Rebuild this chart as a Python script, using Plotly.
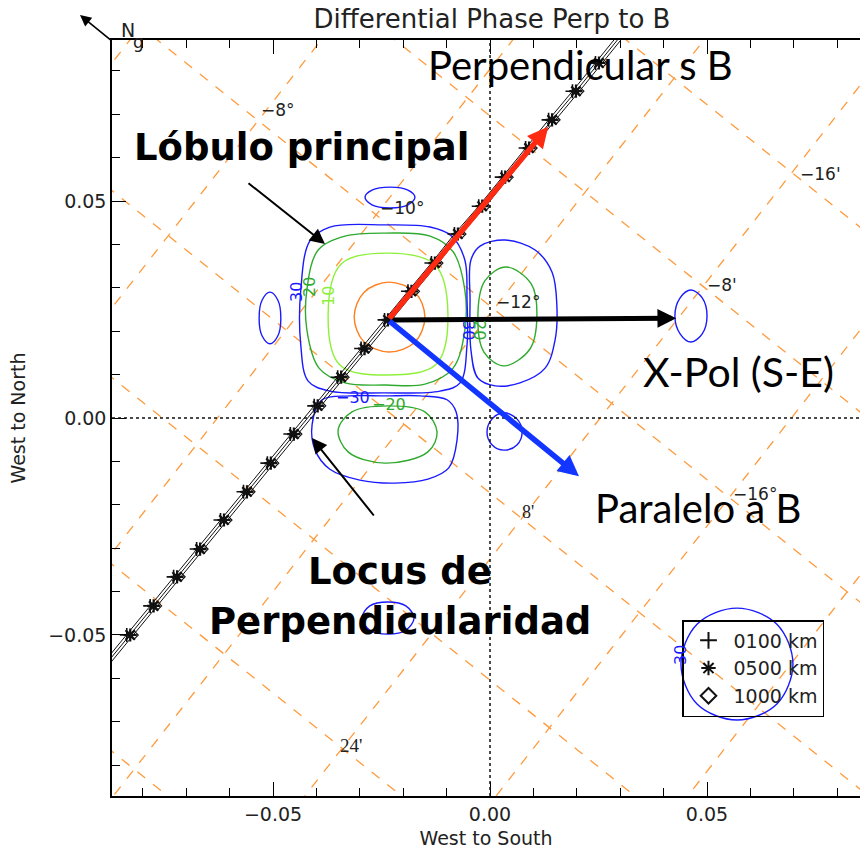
import plotly.graph_objects as go

# ---------------- figure geometry ----------------
FIG_W, FIG_H = 860, 853
M_L, M_R, M_T, M_B = 112, 0, 40, 57
X_RANGE = [-0.0871, 0.08525]
Y_RANGE = [-0.0871, 0.0871]
PLOT_W = FIG_W - M_L - M_R
PLOT_H = FIG_H - M_T - M_B


def paper(px, py):
    """Screen pixel -> paper coordinates (for text placed in the layout)."""
    return (px - M_L) / PLOT_W, 1 - (py - M_T) / PLOT_H


def data(px, py):
    """Screen pixel -> axis coordinates (for text placed on the map)."""
    sx = PLOT_W / (X_RANGE[1] - X_RANGE[0])
    sy = PLOT_H / (Y_RANGE[1] - Y_RANGE[0])
    return X_RANGE[0] + (px - M_L) / sx, Y_RANGE[1] - (py - M_T) / sy


# ---------------- geographic grid (orange dashed) ----------------
grid_slope_desc = -0.80
grid_icpt_desc = [0.1122, 0.0696, 0.0258, -0.0173, -0.0604, -0.1034, -0.1465]
grid_slope_asc = 1.28
grid_icpt_asc = [0.1933, 0.1369, 0.0804, 0.0240, -0.0325, -0.0889, -0.1454]
grid_x_span = [-0.2, 0.2]

# ---------------- differential phase contours ----------------
# main lobe
main_3db_x = [-0.0150, -0.0173, -0.0233, -0.0290, -0.0313, -0.0290, -0.0233, -0.0173]
main_3db_y = [0.0233, 0.0290, 0.0313, 0.0290, 0.0233, 0.0175, 0.0152, 0.0175]
main_10db_x = [-0.0097, -0.0127, -0.0235, -0.0343, -0.0373, -0.0346, -0.0235, -0.0124]
main_10db_y = [0.0240, 0.0353, 0.0380, 0.0355, 0.0240, 0.0122, 0.0099, 0.0124]
main_20db_x = [-0.0058, -0.0058, -0.0085, -0.0138, -0.0240, -0.0334, -0.0396, -0.0422,
               -0.0422, -0.0394, -0.0334, -0.0240, -0.0150, -0.0085]
main_20db_y = [0.0203, 0.0295, 0.0383, 0.0419, 0.0426, 0.0419, 0.0387, 0.0295,
               0.0203, 0.0115, 0.0081, 0.0076, 0.0078, 0.0115]
main_30db_x = [-0.0053, -0.0053, -0.0058, -0.0088, -0.0138, -0.0244, -0.0369, -0.0415,
               -0.0436, -0.0436, -0.0419, -0.0369, -0.0244, -0.0115, -0.0069]
main_30db_y = [0.0168, 0.0272, 0.0364, 0.0419, 0.0440, 0.0445, 0.0440, 0.0408,
               0.0295, 0.0168, 0.0085, 0.0062, 0.0058, 0.0062, 0.0081]
# side lobes
left_30db_x = [-0.0482, -0.0489, -0.0507, -0.0525, -0.0532, -0.0525, -0.0507, -0.0489]
left_30db_y = [0.0230, 0.0272, 0.0290, 0.0272, 0.0230, 0.0189, 0.0171, 0.0189]
top_30db_x = [-0.0173, -0.0189, -0.0230, -0.0272, -0.0288, -0.0272, -0.0230, -0.0189]
top_30db_y = [0.0509, 0.0525, 0.0532, 0.0525, 0.0509, 0.0491, 0.0484, 0.0491]
right_30db_x = [-0.0046, -0.0044, -0.0023, 0.0035, 0.0104, 0.0143, 0.0154, 0.0150,
                0.0127, 0.0069, 0.0012, -0.0028, -0.0044]
right_30db_y = [0.0272, 0.0364, 0.0396, 0.0410, 0.0387, 0.0336, 0.0260, 0.0180,
                0.0115, 0.0081, 0.0074, 0.0092, 0.0157]
right_20db_x = [0.0108, 0.0095, 0.0037, -0.0012, -0.0028, -0.0014, 0.0032, 0.0092]
right_20db_y = [0.0235, 0.0309, 0.0348, 0.0316, 0.0230, 0.0152, 0.0120, 0.0159]
low_30db_x = [-0.0323, -0.0387, -0.0410, -0.0403, -0.0369, -0.0300, -0.0219, -0.0143,
              -0.0095, -0.0076, -0.0078, -0.0099, -0.0161, -0.0242]
low_30db_y = [0.0051, 0.0042, -0.0016, -0.0074, -0.0118, -0.0143, -0.0150, -0.0141,
              -0.0115, -0.0051, 0.0014, 0.0042, 0.0051, 0.0051]
low_20db_x = [-0.0122, -0.0150, -0.0235, -0.0318, -0.0350, -0.0327, -0.0242, -0.0143]
low_20db_y = [-0.0032, 0.0014, 0.0028, 0.0014, -0.0028, -0.0078, -0.0104, -0.0078]
small_30db_x = [0.0074, 0.0062, 0.0032, 0.0005, -0.0007, 0.0005, 0.0032, 0.0062]
small_30db_y = [-0.0032, -0.0002, 0.0012, -0.0002, -0.0032, -0.0062, -0.0074, -0.0062]
east_30db_x = [0.0500, 0.0489, 0.0463, 0.0438, 0.0426, 0.0438, 0.0463, 0.0489]
east_30db_y = [0.0235, 0.0277, 0.0295, 0.0277, 0.0235, 0.0194, 0.0175, 0.0194]
south_30db_x = [-0.0175, -0.0194, -0.0235, -0.0277, -0.0295, -0.0277, -0.0235, -0.0194]
south_30db_y = [-0.0461, -0.0433, -0.0424, -0.0433, -0.0461, -0.0489, -0.0498, -0.0489]
corner_30db_x = [0.0698, 0.0661, 0.0569, 0.0477, 0.0440, 0.0477, 0.0569, 0.0661]
corner_30db_y = [-0.0567, -0.0475, -0.0438, -0.0475, -0.0567, -0.0659, -0.0696, -0.0659]

# ---------------- perpendicularity locus ----------------
locus_y = [0.0818, 0.0753, 0.0687, 0.0622, 0.0555, 0.0488, 0.0424, 0.0357, 0.0292, 0.0226,
           0.0160, 0.0094, 0.0028, -0.0037, -0.0104, -0.0170, -0.0235, -0.0302, -0.0366,
           -0.0433, -0.0500]
locus_x_0100 = [0.0243, 0.0190, 0.0135, 0.0082, 0.0027, -0.0026, -0.0082, -0.0135, -0.0189,
                -0.0243, -0.0297, -0.0351, -0.0405, -0.0460, -0.0513, -0.0568, -0.0621,
                -0.0676, -0.0729, -0.0783, -0.0837]
locus_x_0500 = [0.0251, 0.0198, 0.0143, 0.0090, 0.0035, -0.0018, -0.0074, -0.0127, -0.0181,
                -0.0235, -0.0289, -0.0343, -0.0397, -0.0452, -0.0505, -0.0560, -0.0613,
                -0.0668, -0.0721, -0.0775, -0.0829]
locus_x_1000 = [0.0259, 0.0206, 0.0151, 0.0098, 0.0043, -0.0010, -0.0066, -0.0119, -0.0173,
                -0.0227, -0.0281, -0.0335, -0.0389, -0.0444, -0.0497, -0.0552, -0.0605,
                -0.0660, -0.0713, -0.0767, -0.0821]
locus_end_y = [0.0884, -0.0599]
locus_end_x_0100 = [0.0296, -0.0919]
locus_end_x_0500 = [0.0304, -0.0911]
locus_end_x_1000 = [0.0312, -0.0903]

# ---------------- field directions ----------------
beam_center = (-0.0235, 0.0226)
perp_b_tip = (0.0134, 0.0671)
para_b_tip = (0.0205, -0.0134)
xpol_tip = (0.0429, 0.0230)

BLUE = "#1a1aff"
GREEN = "#2faa2f"
LIGHT_GREEN = "#8ef03a"
ORANGE_C = "#ff7f1e"
GRID_ORANGE = "#ff9a3c"
INK = "#222222"
IDL_FONT = "DejaVu Sans"
SLIDE_FONT = "Lato"
SLIDE_BOLD_FONT = "DejaVu Sans"

fig = go.Figure()

# orange dashed grid
for c in grid_icpt_desc:
    fig.add_trace(go.Scatter(
        x=grid_x_span, y=[grid_slope_desc * v + c for v in grid_x_span],
        mode="lines", line=dict(color=GRID_ORANGE, width=1.3, dash="10px,10px"),
        showlegend=False, hoverinfo="skip"))
for c in grid_icpt_asc:
    fig.add_trace(go.Scatter(
        x=grid_x_span, y=[grid_slope_asc * v + c for v in grid_x_span],
        mode="lines", line=dict(color=GRID_ORANGE, width=1.3, dash="10px,10px"),
        showlegend=False, hoverinfo="skip"))


def add_contour(xs, ys, color):
    fig.add_trace(go.Scatter(
        x=list(xs) + [xs[0]], y=list(ys) + [ys[0]], mode="lines",
        line=dict(color=color, width=1.4, shape="spline", smoothing=1.0),
        showlegend=False, hoverinfo="skip"))


add_contour(main_3db_x, main_3db_y, ORANGE_C)
add_contour(main_10db_x, main_10db_y, LIGHT_GREEN)
add_contour(main_20db_x, main_20db_y, GREEN)
add_contour(main_30db_x, main_30db_y, BLUE)
add_contour(left_30db_x, left_30db_y, BLUE)
add_contour(top_30db_x, top_30db_y, BLUE)
add_contour(right_30db_x, right_30db_y, BLUE)
add_contour(right_20db_x, right_20db_y, GREEN)
add_contour(low_30db_x, low_30db_y, BLUE)
add_contour(low_20db_x, low_20db_y, GREEN)
add_contour(small_30db_x, small_30db_y, BLUE)
add_contour(east_30db_x, east_30db_y, BLUE)
add_contour(south_30db_x, south_30db_y, BLUE)
add_contour(corner_30db_x, corner_30db_y, BLUE)

# locus lines (one per altitude) and their markers
for xs, xe, name, sym, size, lw in [
    (locus_x_0100, locus_end_x_0100, "0100 km", "cross-thin-open", 10, 1.6),
    (locus_x_0500, locus_end_x_0500, "0500 km", "asterisk-open", 11, 2.2),
    (locus_x_1000, locus_end_x_1000, "1000 km", "diamond-open", 7, 1.1),
]:
    fig.add_trace(go.Scatter(
        x=[xe[0]] + xs + [xe[1]], y=[locus_end_y[0]] + locus_y + [locus_end_y[1]],
        mode="lines", line=dict(color="#111111", width=1.0),
        showlegend=False, hoverinfo="skip"))
    fig.add_trace(go.Scatter(
        x=xs, y=locus_y, mode="markers", name=name,
        marker=dict(symbol=sym, size=size, color="#111111", line=dict(color="#111111", width=lw)),
        hoverinfo="skip"))

annotations = []


def arrow(tip, tail, color, width, size):
    annotations.append(dict(
        x=tip[0], y=tip[1], ax=tail[0], ay=tail[1], xref="x", yref="y",
        axref="x", ayref="y", text="", showarrow=True, arrowhead=2,
        arrowsize=size, arrowwidth=width, arrowcolor=color, standoff=0))


arrow(xpol_tip, beam_center, "#000000", 5, 0.75)
arrow(perp_b_tip, beam_center, "#ff2a12", 5.5, 0.75)
arrow(para_b_tip, beam_center, "#1236ff", 5.5, 0.75)
arrow(data(325, 244), data(247, 182), "#000000", 2, 1.5)
arrow(data(312, 438), data(375, 517), "#000000", 2, 1.5)

# slide labels
for txt, px, py, fam, size, bold in [
    ("Perpendicular s B", 580, 65, SLIDE_FONT, 40, False),
    ("Lóbulo principal", 301, 148, SLIDE_BOLD_FONT, 37, True),
    ("X-Pol (S-E)", 738, 372, SLIDE_FONT, 41, False),
    ("Paralelo a B", 698, 508, SLIDE_FONT, 40, False),
    ("Locus de", 400, 571, SLIDE_BOLD_FONT, 37, True),
    ("Perpendicularidad", 400, 621, SLIDE_BOLD_FONT, 37, True),
]:
    xp, yp = paper(px, py)
    annotations.append(dict(
        x=xp, y=yp, xref="paper", yref="paper", xanchor="center", yanchor="middle",
        text=f"<b>{txt}</b>" if bold else txt, showarrow=False,
        font=dict(family=fam, size=size, color="#000000")))

# grid angle labels
for txt, px, py, fam, size in [
    ("−8°", 278, 110, IDL_FONT, 17),
    ("−10°", 402, 208, IDL_FONT, 17),
    ("−12°", 518, 302, IDL_FONT, 17),
    ("−16'", 820, 174, IDL_FONT, 17),
    ("−8'", 722, 285, IDL_FONT, 17),
    ("−16°", 755, 494, IDL_FONT, 17),
    ("8'", 528, 512, "Liberation Serif", 18),
    ("24'", 351, 745, "Liberation Serif", 19),
]:
    xd, yd = data(px, py)
    annotations.append(dict(
        x=xd, y=yd, xref="x", yref="y", text=txt, showarrow=False,
        font=dict(family=fam, size=size, color=INK)))

# contour level labels
for txt, px, py, color, angle in [
    ("30", 296, 292, BLUE, -90),
    ("20", 309, 287, GREEN, -90),
    ("10", 328, 296, LIGHT_GREEN, -90),
    ("−30", 353, 397, BLUE, 0),
    ("−20", 389, 404, GREEN, 0),
    ("30", 469, 330, BLUE, 90),
    ("20", 480, 330, GREEN, 90),
    ("30", 680, 655, BLUE, -90),
]:
    xd, yd = data(px, py)
    annotations.append(dict(
        x=xd, y=yd, xref="x", yref="y", text=txt, showarrow=False, textangle=angle,
        font=dict(family=IDL_FONT, size=16, color=color)))

# north arrow in the corner
tip = paper(80, 15)
annotations.append(dict(
    x=tip[0], y=tip[1], xref="paper", yref="paper", ax=32, ay=26, text="",
    showarrow=True, arrowhead=2, arrowsize=1.4, arrowwidth=1.6, arrowcolor="#000000"))
for txt, px, py, size in [("N", 119, 17, 19), ("g", 131, 30, 17)]:
    xp, yp = paper(px, py)
    annotations.append(dict(
        x=xp, y=yp, xref="paper", yref="paper", text=txt, showarrow=False,
        font=dict(family=IDL_FONT, size=size, color=INK)))

# dotted zero lines
shapes = [
    dict(type="line", xref="x", yref="paper", x0=0, x1=0, y0=0, y1=1,
         line=dict(color="#111111", width=1.5, dash="dot")),
    dict(type="line", xref="paper", yref="y", x0=0, x1=1, y0=0, y1=0,
         line=dict(color="#111111", width=1.5, dash="dot")),
]

axis_common = dict(
    showgrid=False, zeroline=False, showline=True, linecolor="#000000", linewidth=1.5,
    ticks="inside", ticklen=14, tickwidth=1.3, tickcolor="#000000",
    dtick=0.05, tick0=0, tickformat=".2f",
    minor=dict(dtick=0.01, ticks="inside", ticklen=8, tickwidth=1.2, tickcolor="#000000"),
    tickfont=dict(family=IDL_FONT, size=19, color=INK),
    title_font=dict(family=IDL_FONT, size=19, color=INK),
)

leg = paper(682, 620)
fig.update_layout(
    width=FIG_W, height=FIG_H,
    margin=dict(l=M_L, r=M_R, t=M_T, b=M_B),
    paper_bgcolor="white", plot_bgcolor="white",
    title=dict(text="Differential Phase Perp to B", x=492 / FIG_W, xanchor="center",
               y=1 - 19 / FIG_H, yanchor="middle",
               font=dict(family=IDL_FONT, size=26, color=INK)),
    xaxis=dict(range=X_RANGE, mirror="ticks", title=dict(text="West to South", standoff=8),
               **axis_common),
    yaxis=dict(range=Y_RANGE, mirror=False, title=dict(text="West to North", standoff=18),
               **axis_common),
    legend=dict(x=leg[0], y=leg[1], xanchor="left", yanchor="top",
                bordercolor="#000000", borderwidth=1.5, bgcolor="rgba(0,0,0,0)",
                font=dict(family=IDL_FONT, size=19, color=INK), itemsizing="constant",
                itemwidth=40),
    annotations=annotations,
    shapes=shapes,
)

fig.write_html("out.html")
